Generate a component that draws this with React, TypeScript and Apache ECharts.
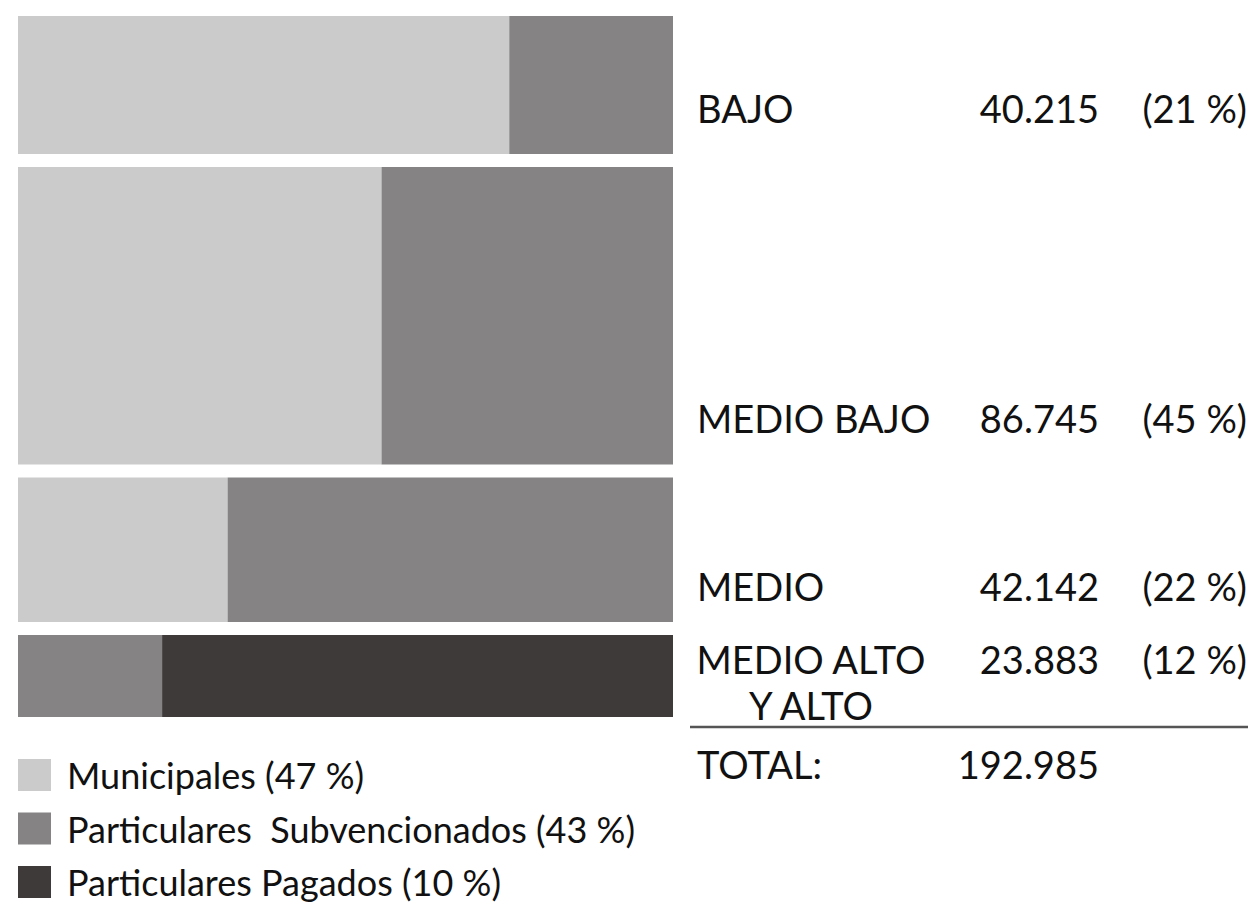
import React, { useEffect, useRef } from "react";
import * as echarts from "echarts";

// ---- data ----
const categories = ["BAJO", "MEDIO BAJO", "MEDIO", "MEDIO ALTO\nY ALTO"];
const rowTotals = [40215, 86745, 42142, 23883];
// share (%) of each row by school type
const municipalShare = [75, 55.5, 32, 0];
const subvencionadoShare = [25, 44.5, 68, 22];
const pagadoShare = [0, 0, 0, 78];
const seriesNames = [
  "Municipales (47 %)",
  "Particulares  Subvencionados (43 %)",
  "Particulares Pagados (10 %)",
];
const seriesColors = ["#cbcbcb", "#858383", "#3e3a39"];

const FONT = "Lato, 'DejaVu Sans', sans-serif";
const GAP = 13;
const LINE_H = 46;

function fmt(n: number): string {
  return String(n).replace(/\B(?=(\d{3})+(?!\d))/g, ".");
}

export default function App() {
  const ref = useRef<HTMLDivElement>(null);
  useEffect(() => {
    document.body.style.margin = "0";
    if (!ref.current) return;
    const chart = echarts.init(ref.current, null, { renderer: "svg" });
    const total = rowTotals.reduce((a, b) => a + b, 0);
    const shares = [municipalShare, subvencionadoShare, pagadoShare];

    // build rect data per series: [x0, x1, y0, y1, row]
    const seriesData: number[][][] = [[], [], []];
    let cum = 0;
    rowTotals.forEach((v, i) => {
      let xs = 0;
      shares.forEach((arr, s) => {
        const w = arr[i];
        if (w > 0) seriesData[s].push([xs, xs + w, cum, cum + v, i]);
        xs += w;
      });
      cum += v;
    });

    const renderItem = (params: any, api: any) => {
      const p0 = api.coord([api.value(0), api.value(2)]);
      const p1 = api.coord([api.value(1), api.value(3)]);
      const off = api.value(4) * GAP;
      return {
        type: "rect",
        shape: { x: p0[0], y: p0[1] + off, width: p1[0] - p0[0], height: p1[1] - p0[1] },
        style: { fill: api.visual("color") },
      };
    };

    const labelY = [108, 418, 586, 682];
    const textStyle = (extra: any) => ({
      fill: "#111",
      font: `38px ${FONT}`,
      verticalAlign: "middle",
      ...extra,
    });
    const graphics: any[] = [];
    categories.forEach((c, i) => {
      const multi = c.indexOf("\n") >= 0;
      graphics.push({
        type: "text",
        x: multi ? 811 : 697,
        y: labelY[i],
        style: textStyle({ text: c, align: multi ? "center" : "left", lineHeight: LINE_H }),
      });
      const vy = multi ? labelY[i] - LINE_H / 2 : labelY[i];
      graphics.push({
        type: "text",
        x: 1099,
        y: vy,
        style: textStyle({ text: fmt(rowTotals[i]), align: "right" }),
      });
      graphics.push({
        type: "text",
        x: 1247,
        y: vy,
        style: textStyle({ text: `(${Math.round((rowTotals[i] / total) * 100)} %)`, align: "right" }),
      });
    });
    graphics.push({
      type: "line",
      shape: { x1: 690, y1: 727, x2: 1248, y2: 727 },
      style: { stroke: "#555", lineWidth: 2.5 },
    });
    graphics.push({
      type: "text",
      x: 697,
      y: 764,
      style: textStyle({ text: "TOTAL:", align: "left" }),
    });
    graphics.push({
      type: "text",
      x: 1099,
      y: 764,
      style: textStyle({ text: fmt(total), align: "right" }),
    });

    chart.setOption({
      animation: false,
      grid: { left: 18, top: 16, width: 655, height: 662 },
      xAxis: { type: "value", min: 0, max: 100, show: false },
      yAxis: { type: "value", min: 0, max: total, inverse: true, show: false },
      legend: {
        orient: "vertical",
        left: 18,
        top: 757,
        padding: 0,
        icon: "rect",
        itemWidth: 33,
        itemHeight: 32,
        itemGap: 17.5,
        textStyle: {
          fontSize: 36,
          fontFamily: FONT,
          color: "#111",
          lineHeight: 32,
          padding: [4, 0, 0, 11],
        },
        data: seriesNames,
        selectedMode: false,
      },
      graphic: graphics,
      series: seriesNames.map((name, s) => ({
        type: "custom",
        name,
        renderItem,
        itemStyle: { color: seriesColors[s] },
        encode: { x: [0, 1], y: [2, 3] },
        data: seriesData[s],
        silent: true,
      })),
    });
    return () => chart.dispose();
  }, []);
  return <div ref={ref} style={{ width: 1260, height: 913 }} />;
}
